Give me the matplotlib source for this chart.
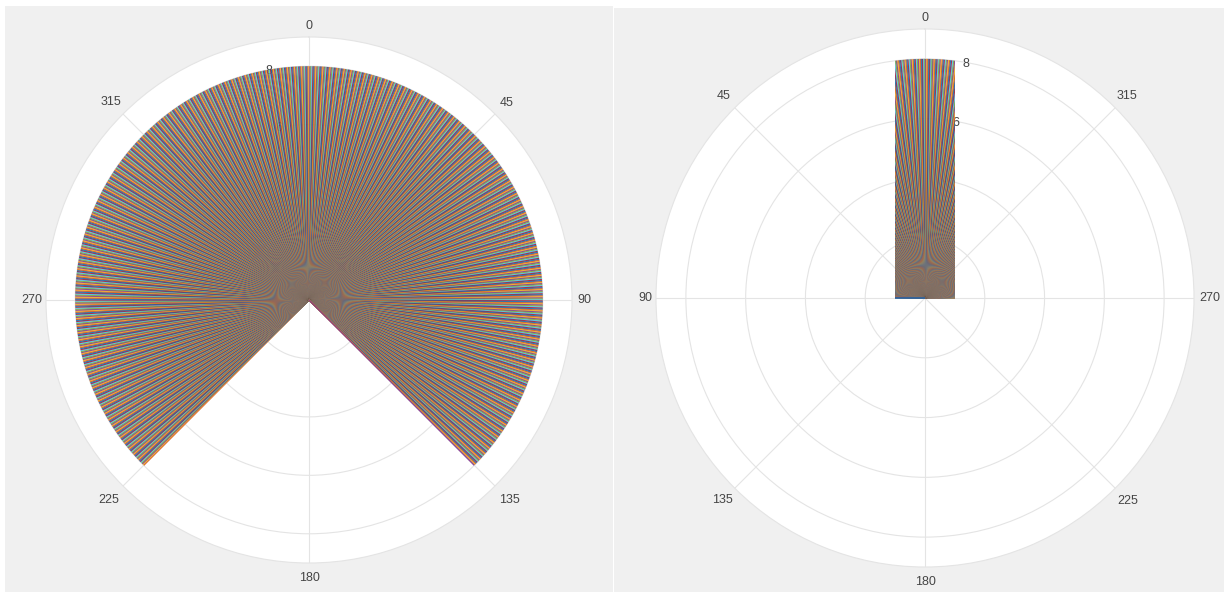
import matplotlib
matplotlib.use("Agg")
import matplotlib.pyplot as plt
from matplotlib.patches import Rectangle
import numpy as np

plt.rcParams['font.family'] = ['Liberation Sans', 'DejaVu Sans']

W, H = 1224, 592

theta_ticks = [0, 45, 90, 135, 180, 225, 270, 315]
theta_labels = ['0', '45', '90', '135', '180', '225', '270', '315']
r_ticks = [0, 2, 4, 6, 8]
r_labels = ['0', '2', '4', '6', '8']
r_max = 9

line_colors = ['#0072BD', '#D95319', '#EDB120', '#7E2F8E', '#77AC30', '#4DBEEE', '#A2142F']

# Both charts are fans of spokes at a constant angular step. The step (about a
# quarter degree) and the spoke counts are estimated from the stripe period.
left_sweep_deg = [-135, 135]
left_spoke_count = 1081
left_radius = 8

right_sweep_deg = [-90, 90]
right_spoke_count = 722
right_radius = 8
right_half_width = 1   # the right fan is cut to |x| <= 1 in radial units

# distance of each angle label outside the rim, in pixels
left_label_gap = [11, 16, 12, 20, 15, 20, 14, 17]
right_label_gap = [11, 16, 11, 17, 15, 18, 16, 16]

PANEL = '#f0f0f0'
GRID = '#e4e4e4'
TEXT = '#454545'
SPOKE_LW = 1.0
SPOKE_ALPHA = 0.85


def box(x0, y0, x1, y1):
    return [x0 / W, 1 - y1 / H, (x1 - x0) / W, (y1 - y0) / H]


fig = plt.figure(figsize=(W / 100, H / 100), dpi=100, facecolor='white')
for x0, y0, x1, y1 in [(5, 6, 613, 592), (614, 8, 1224, 592)]:
    fig.patches.append(Rectangle((x0 / W, 1 - y1 / H), (x1 - x0) / W, (y1 - y0) / H,
                                 transform=fig.transFigure, facecolor=PANEL,
                                 edgecolor='none', zorder=-5))


def setup(ax, direction, gaps, rim_px):
    ax.set_theta_zero_location('N')
    ax.set_theta_direction(direction)
    ax.set_thetagrids(theta_ticks, [''] * len(theta_ticks))
    ax.set_rlim(0, r_max)
    ax.set_yticks(r_ticks)
    ax.set_yticklabels([''] * len(r_ticks))
    ax.set_axisbelow(True)
    ax.grid(True, color=GRID, linewidth=0.8)
    for s in ax.spines.values():
        s.set_color(GRID)
        s.set_linewidth(0.8)
    for deg, label, gap in zip(theta_ticks, theta_labels, gaps):
        ax.text(np.deg2rad(deg), r_max * (1 + gap / rim_px), label, ha='center',
                va='center', fontsize=9, color=TEXT, clip_on=False)
    # radial labels sit under the spokes, on the ray 10 degrees off the top
    for r, label in zip(r_ticks, r_labels):
        ax.text(np.deg2rad(-10), r - 0.04, label, ha='center', va='center', fontsize=9,
                color=TEXT, zorder=1, clip_on=False)


ax1 = fig.add_axes(box(46, 37, 572, 563), projection='polar')
setup(ax1, -1, left_label_gap, 263)
for i, a in enumerate(np.linspace(*left_sweep_deg, left_spoke_count)):
    t = np.deg2rad(a)
    ax1.plot([t, t], [0, left_radius], color=line_colors[(i + 1) % len(line_colors)],
             lw=SPOKE_LW, alpha=SPOKE_ALPHA, solid_capstyle='butt', snap=False)
ax1.set_rlim(0, r_max)

ax2 = fig.add_axes(box(656, 29, 1194, 567), projection='polar')
setup(ax2, 1, right_label_gap, 269)
frac = right_half_width / (2 * r_max)
for i, a in enumerate(np.linspace(*right_sweep_deg, right_spoke_count)):
    t = np.deg2rad(a)
    ln, = ax2.plot([t, t], [0, right_radius], color=line_colors[i % len(line_colors)],
                   lw=SPOKE_LW, alpha=SPOKE_ALPHA, solid_capstyle='butt', snap=False)
    ln.set_clip_path(Rectangle((0.5 - frac, 0.497), 2 * frac, 0.503, transform=ax2.transAxes))
ax2.set_rlim(0, r_max)

fig.savefig('out.png', dpi=100, facecolor='white')
